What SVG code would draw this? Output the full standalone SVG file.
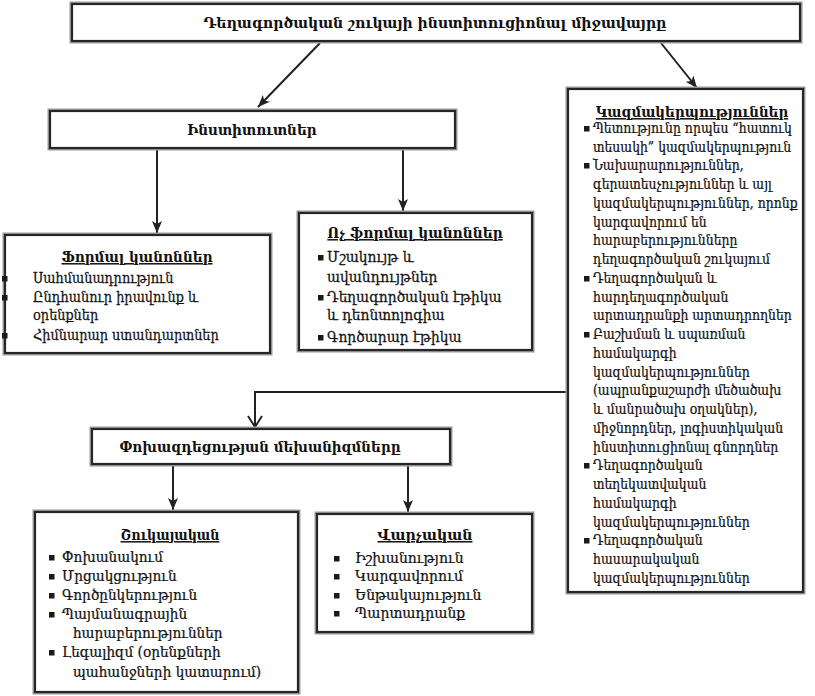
<svg xmlns="http://www.w3.org/2000/svg" width="815" height="696" viewBox="0 0 815 696">
  <style>
    .halo { fill: none; stroke: #9a9a9a; stroke-width: 5; }
    .box { fill: #ffffff; stroke: #262626; stroke-width: 2.2; }
    text { font-family: "DejaVu Serif", "Noto Serif", serif; fill: #111111; }
    .t { font-size: 15px; font-weight: bold; text-anchor: middle; }
    .h { font-size: 15px; font-weight: bold; text-anchor: middle; text-decoration: underline; }
    .i { font-size: 15px; stroke: #111111; stroke-width: 0.25; }
    .bul { fill: #1a1a1a; }
    .con { fill: none; stroke: #222; stroke-width: 2; }
  </style>
  <defs>
    <marker id="ah" markerUnits="userSpaceOnUse" markerWidth="14" markerHeight="12" refX="12" refY="6" orient="auto">
      <path d="M0,1 L12,6 L0,11 L3,6 Z" fill="#222"/>
    </marker>
    <marker id="av" markerUnits="userSpaceOnUse" markerWidth="14" markerHeight="16" refX="12" refY="8" orient="auto">
      <path d="M1,1 L12,8 L1,15" fill="none" stroke="#222" stroke-width="2"/>
    </marker>
    <rect id="sq" width="5.5" height="5.5"/>
  </defs>

  <!-- connectors -->
  <g id="connectors">
    <line class="con" x1="320" y1="43" x2="258" y2="107" marker-end="url(#ah)"/>
    <line class="con" x1="661" y1="43" x2="697" y2="88" marker-end="url(#ah)"/>
    <line class="con" x1="157" y1="150" x2="157" y2="233" marker-end="url(#ah)"/>
    <line class="con" x1="403" y1="150" x2="403" y2="211" marker-end="url(#ah)"/>
    <polyline class="con" points="568,392 255,392 255,427" marker-end="url(#av)"/>
    <line class="con" x1="173" y1="465" x2="173" y2="510" marker-end="url(#ah)"/>
    <line class="con" x1="408" y1="465" x2="408" y2="512" marker-end="url(#ah)"/>
  </g>

  <!-- top: market environment -->
  <g id="environment">
    <rect class="halo" x="72" y="4" width="728" height="37"/>
    <rect class="box" x="72" y="4" width="728" height="37"/>
    <text class="t" transform="translate(435 0) scale(0.94 1)" x="0" y="28">Դեղագործական շուկայի ինստիտուցիոնալ միջավայրը</text>
  </g>

  <!-- institutions -->
  <g id="institutions">
    <rect class="halo" x="50" y="111" width="405" height="37"/>
    <rect class="box" x="50" y="111" width="405" height="37"/>
    <text class="t" transform="translate(252 0) scale(0.91 1)" x="0" y="135">Ինստիտուտներ</text>
  </g>

  <!-- formal rules -->
  <g id="formal">
    <rect class="halo" x="5" y="235" width="265" height="118"/>
    <rect class="box" x="5" y="235" width="265" height="118"/>
    <text class="h" transform="translate(137 0) scale(0.91 1)" x="0" y="262">Ֆորմալ կանոններ</text>
    <use href="#sq" class="bul" x="2" y="276"/>
    <use href="#sq" class="bul" x="2" y="295"/>
    <use href="#sq" class="bul" x="2" y="333"/>
    <g transform="translate(33 0) scale(0.86 1)">
      <text class="i" x="0" y="283">Սահմանադրություն</text>
      <text class="i" x="0" y="302">Ընդհանուր իրավունք և</text>
      <text class="i" x="0" y="320">օրենքներ</text>
      <text class="i" x="0" y="340">Հիմնարար ստանդարտներ</text>
    </g>
  </g>

  <!-- informal rules -->
  <g id="informal">
    <rect class="halo" x="299" y="213" width="233" height="137"/>
    <rect class="box" x="299" y="213" width="233" height="137"/>
    <text class="h" transform="translate(415 0) scale(0.92 1)" x="0" y="238">Ոչ ֆորմալ կանոններ</text>
    <use href="#sq" class="bul" x="318" y="255"/>
    <use href="#sq" class="bul" x="318" y="295"/>
    <use href="#sq" class="bul" x="318" y="335"/>
    <g transform="translate(327 0) scale(0.92 1)">
      <text class="i" x="0" y="262">Մշակույթ և</text>
      <text class="i" x="0" y="282">ավանդույթներ</text>
      <text class="i" x="0" y="302">Դեղագործական էթիկա</text>
      <text class="i" x="0" y="320">և դեոնտոլոգիա</text>
      <text class="i" x="0" y="342">Գործարար էթիկա</text>
    </g>
  </g>

  <!-- organizations -->
  <g id="organizations">
    <rect class="halo" x="568" y="89" width="235" height="503"/>
    <rect class="box" x="568" y="89" width="235" height="503"/>
    <text class="h" transform="translate(692 0) scale(0.9 1)" x="0" y="117">Կազմակերպություններ</text>
    <use href="#sq" class="bul" x="584" y="126"/>
    <use href="#sq" class="bul" x="584" y="163"/>
    <use href="#sq" class="bul" x="584" y="276"/>
    <use href="#sq" class="bul" x="584" y="332"/>
    <use href="#sq" class="bul" x="584" y="463"/>
    <use href="#sq" class="bul" x="584" y="538"/>
    <g transform="translate(593 0) scale(0.83 1)">
      <text class="i" x="0" y="133">Պետությունը որպես “հատուկ</text>
      <text class="i" x="0" y="152">տեսակի” կազմակերպություն</text>
      <text class="i" x="0" y="170">Նախարարություններ,</text>
      <text class="i" x="0" y="189">գերատեսչություններ և այլ</text>
      <text class="i" x="0" y="208">կազմակերպություններ, որոնք</text>
      <text class="i" x="0" y="227">կարգավորում են</text>
      <text class="i" x="0" y="245">հարաբերությունները</text>
      <text class="i" x="0" y="264">դեղագործական շուկայում</text>
      <text class="i" x="0" y="283">Դեղագործական և</text>
      <text class="i" x="0" y="302">հարդեղագործական</text>
      <text class="i" x="0" y="320">արտադրանքի արտադրողներ</text>
      <text class="i" x="0" y="339">Բաշխման և սպառման</text>
      <text class="i" x="0" y="358">համակարգի</text>
      <text class="i" x="0" y="377">կազմակերպություններ</text>
      <text class="i" x="0" y="395">(ապրանքաշարժի մեծածախ</text>
      <text class="i" x="0" y="414">և մանրածախ օղակներ),</text>
      <text class="i" x="0" y="433">միջնորդներ, լոգիստիկական</text>
      <text class="i" x="0" y="452">ինստիտուցիոնալ գնորդներ</text>
      <text class="i" x="0" y="470">Դեղագործական</text>
      <text class="i" x="0" y="489">տեղեկատվական</text>
      <text class="i" x="0" y="508">համակարգի</text>
      <text class="i" x="0" y="527">կազմակերպություններ</text>
      <text class="i" x="0" y="545">Դեղագործական</text>
      <text class="i" x="0" y="564">հասարակական</text>
      <text class="i" x="0" y="583">կազմակերպություններ</text>
    </g>
  </g>

  <!-- interaction mechanisms -->
  <g id="mechanisms">
    <rect class="halo" x="92" y="429" width="358" height="35"/>
    <rect class="box" x="92" y="429" width="358" height="35"/>
    <text class="t" transform="translate(260 0) scale(0.9 1)" x="0" y="452">Փոխազդեցության մեխանիզմները</text>
  </g>

  <!-- market mechanisms -->
  <g id="market">
    <rect class="halo" x="35" y="512" width="263" height="180"/>
    <rect class="box" x="35" y="512" width="263" height="180"/>
    <text class="h" transform="translate(170 0) scale(0.85 1)" x="0" y="540">Շուկայական</text>
    <use href="#sq" class="bul" x="49" y="555"/>
    <use href="#sq" class="bul" x="49" y="574"/>
    <use href="#sq" class="bul" x="49" y="593"/>
    <use href="#sq" class="bul" x="49" y="612"/>
    <use href="#sq" class="bul" x="49" y="650"/>
    <g transform="translate(62 0) scale(0.91 1)">
      <text class="i" x="0" y="562">Փոխանակում</text>
      <text class="i" x="0" y="581">Մրցակցություն</text>
      <text class="i" x="0" y="600">Գործընկերություն</text>
      <text class="i" x="0" y="619">Պայմանագրային</text>
      <text class="i" x="12" y="638">հարաբերություններ</text>
      <text class="i" x="0" y="657">Լեգալիզմ (օրենքների</text>
      <text class="i" x="12" y="677">պահանջների կատարում)</text>
    </g>
  </g>

  <!-- administrative mechanisms -->
  <g id="administrative">
    <rect class="halo" x="317" y="514" width="215" height="118"/>
    <rect class="box" x="317" y="514" width="215" height="118"/>
    <text class="h" transform="translate(425 0) scale(0.95 1)" x="0" y="540">Վարչական</text>
    <use href="#sq" class="bul" x="334" y="556"/>
    <use href="#sq" class="bul" x="334" y="574"/>
    <use href="#sq" class="bul" x="334" y="593"/>
    <use href="#sq" class="bul" x="334" y="611"/>
    <g transform="translate(355 0) scale(0.93 1)">
      <text class="i" x="0" y="563">Իշխանություն</text>
      <text class="i" x="0" y="581">Կարգավորում</text>
      <text class="i" x="0" y="600">Ենթակայություն</text>
      <text class="i" x="0" y="618">Պարտադրանք</text>
    </g>
  </g>
</svg>
